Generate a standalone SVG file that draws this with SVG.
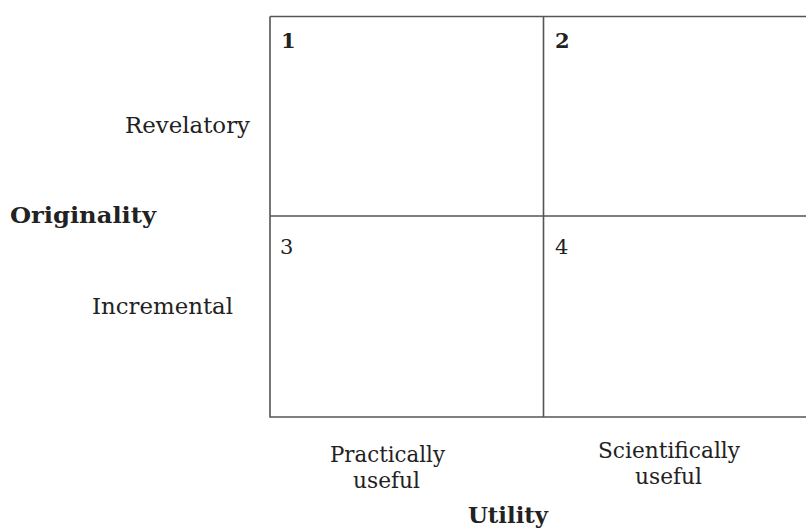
<svg xmlns="http://www.w3.org/2000/svg" width="806" height="530" viewBox="0 0 806 530">
<style>
  .t { font-family: "DejaVu Serif", "Liberation Serif", serif; font-size: 22px; fill: #222; }
  .b { font-weight: bold; font-size: 22px; }
  .n { font-size: 21px; }
  .ln { stroke: #555; stroke-width: 1.6; fill: none; }
</style>
<rect width="806" height="530" fill="#fff"/>
<g id="grid">
  <path class="ln" d="M270,16.5 H806 M270,16.5 V417 H806 M543.5,16.5 V417 M270,216 H806"/>
</g>
<g id="q1"><text class="t n" x="281" y="48" font-weight="bold">1</text></g>
<g id="q2"><text class="t n" x="555" y="48" font-weight="bold">2</text></g>
<g id="q3"><text class="t n" x="280" y="254">3</text></g>
<g id="q4"><text class="t n" x="555" y="254">4</text></g>
<g id="ylabels">
  <text class="t" x="125" y="133" textLength="125" lengthAdjust="spacingAndGlyphs">Revelatory</text>
  <text class="t b" x="10" y="223" textLength="146" lengthAdjust="spacingAndGlyphs">Originality</text>
  <text class="t" x="92" y="314" textLength="141" lengthAdjust="spacingAndGlyphs">Incremental</text>
</g>
<g id="xlabels">
  <text class="t" x="330" y="462" textLength="115" lengthAdjust="spacingAndGlyphs">Practically</text>
  <text class="t" x="353" y="488" textLength="67" lengthAdjust="spacingAndGlyphs">useful</text>
  <text class="t" x="598" y="458" textLength="142" lengthAdjust="spacingAndGlyphs">Scientifically</text>
  <text class="t" x="635" y="484" textLength="67" lengthAdjust="spacingAndGlyphs">useful</text>
  <text class="t b" x="468" y="523" textLength="80" lengthAdjust="spacingAndGlyphs">Utility</text>
</g>
</svg>
